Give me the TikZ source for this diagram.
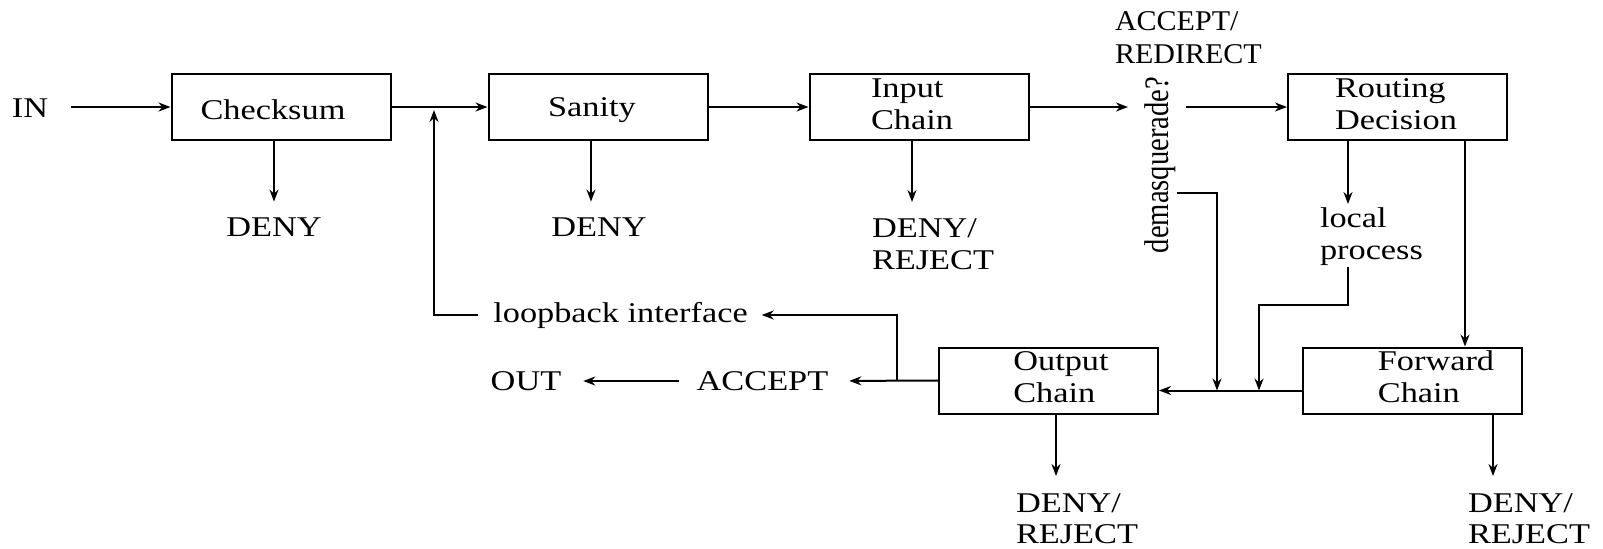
\documentclass[tikz,border=0pt]{standalone}
\usepackage{fontspec}
\setmainfont{Liberation Serif}[FakeStretch=1.2]
\newfontfamily\plainserif{Liberation Serif}
\newfontfamily\narrowserif{Liberation Serif}[FakeStretch=1.05]
\usetikzlibrary{arrows.meta}
\begin{document}
\begin{tikzpicture}[x=0.5pt,y=-0.5pt,
  font=\fontsize{14.3}{16}\selectfont,
  line width=1pt,
  box/.style={draw, line width=1pt, minimum width=109.5pt, minimum height=33pt, inner sep=0pt},
  lbl/.style={inner sep=0pt, align=left},
  arr/.style={-{Stealth[length=6pt,width=4.5pt]}},
]
\useasboundingbox (0,0) rectangle (1603,548);

% chain boxes
\node[box] (chk)  at (281,107)    {};
\node[box] (san)  at (598,107)    {};
\node[box] (inp)  at (919,107)    {};
\node[box] (rout) at (1397.5,107) {};
\node[box] (outc) at (1048.5,380.5) {};
\node[box] (fwd)  at (1412.5,380.5) {};

% box captions
\node[lbl] (chkt)  at (273,110)    {Checksum};
\node[lbl] (sant)  at (592,110)    {Sanity};
\node[lbl] (inpt)  at (912,104.5)  {Input\\Chain};
\node[lbl] (routt) at (1396,104.5) {Routing\\Decision};
\node[lbl] (outct) at (1061,377)   {Output\\Chain};
\node[lbl] (fwdt)  at (1436,377)   {Forward\\Chain};

% free labels
\node[lbl] (inlbl)  at (30,108)  {IN};
\node[lbl] (d1)     at (274,227) {DENY};
\node[lbl] (d2)     at (599,227) {DENY};
\node[lbl, anchor=north west] (d3) at (871,218) {DENY/\\REJECT};
\node[lbl, anchor=north west, font=\narrowserif\fontsize{14.3}{16.3}\selectfont] (ar) at (1114,11) {ACCEPT/\\REDIRECT};
\node[lbl] (dm) at (1160,165) {\rotatebox{90}{\scalebox{1}[1.2]{\plainserif demasquerade?}}};
\node[lbl, anchor=north west] (lp) at (1319,207) {local\\process};
\node[lbl, anchor=north west, font=\fontsize{14.3}{15.5}\selectfont] (d4) at (1015,493) {DENY/\\REJECT};
\node[lbl, anchor=north west, font=\fontsize{14.3}{15.5}\selectfont] (d5) at (1467,493) {DENY/\\REJECT};
\node[lbl] (lb)     at (620.5,315) {loopback interface};
\node[lbl] (acc)    at (762.5,381) {ACCEPT};
\node[lbl] (outlbl) at (526,381)   {OUT};

% junction points on the Forward -> Output line and the merge point
\coordinate (j1) at (1217,390.5);
\coordinate (j2) at (1259,390.5);
\coordinate (m)  at (434,110);

% main path
\draw[arr, shorten <=11pt] (inlbl.east |- chk.west) -- (chk.west);
\draw[arr] (chk.east) -- (san.west);
\draw[arr] (san.east) -- (inp.west);
\draw[arr, shorten >=16pt] (inp.east) -- (inp.east -| dm.center);
\draw[arr, shorten <=13pt] (rout.west -| dm.center) -- (rout.west);

% deny branches
\draw[arr, shorten >=7.5pt] (chk.south -| d1) -- (d1.north);
\draw[arr, shorten >=7.5pt] ([xshift=-4pt]d2.north |- san.south) -- ([xshift=-4pt]d2.north);
\draw[arr, shorten >=8pt] ([xshift=20.5pt]d3.north west |- inp.south) -- ([xshift=20.5pt]d3.north west);
\draw[arr, shorten >=8.5pt] ([xshift=20.5pt]d4.north west |- outc.south) -- ([xshift=20.5pt]d4.north west);
\draw[arr, shorten >=8.5pt] ([xshift=13pt]d5.north west |- fwd.south) -- ([xshift=13pt]d5.north west);

% routing decision outputs
\draw[arr, shorten >=1.5pt] ([xshift=14.5pt]lp.north west |- rout.south) -- ([xshift=14.5pt]lp.north west);
\draw[arr] ([xshift=33.75pt]rout.south) -- ([xshift=33.75pt]rout.south |- fwd.north);
\draw[arr] ([xshift=14.5pt]lp.south west) -- ++(0,38) -| (j2);
\draw[arr] ([yshift=-14pt]dm.east) -| (j1);
\draw[arr] ([yshift=-5pt]fwd.west) -- ([yshift=-5pt]outc.east);

% output side
\draw[arr, shorten >=10pt] (outc.west) -- (acc.east);
\draw[arr, shorten >=6.5pt] ([xshift=-20.5pt]outc.west) |- (lb.east);
\draw[arr, shorten <=8.5pt, shorten >=10.5pt] (acc.west) -- (outlbl.east);
\draw[arr, shorten <=7pt] (lb.west) -| (m);
\end{tikzpicture}
\end{document}
